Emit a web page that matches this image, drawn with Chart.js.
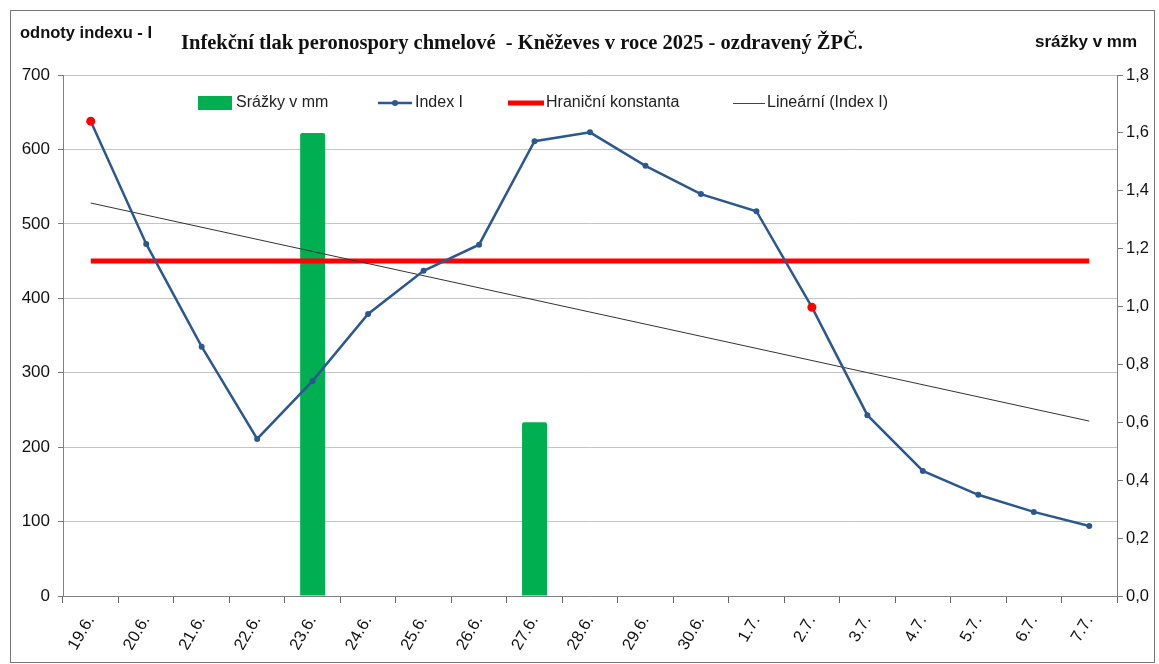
<!DOCTYPE html>
<html>
<head>
<meta charset="utf-8">
<script src="https://cdn.jsdelivr.net/npm/chart.js@4/dist/chart.umd.min.js"></script>
<style>
  html, body { margin: 0; padding: 0; background: #fff; }
  #wrap { position: relative; width: 1159px; height: 664px; }
  #frame { position: absolute; left: 10px; top: 10px; width: 1143px; height: 651px; border: 1px solid #767676; }
  canvas { position: absolute; left: 0; top: 0; }
  .hdr { position: absolute; line-height: 1; white-space: pre; color: #111; }
  #leftTitle { left: 20px; top: 23px; font: bold 16.5px "Liberation Sans", Arial, sans-serif; }
  #rightTitle { left: 1035px; top: 32px; font: bold 17px "Liberation Sans", Arial, sans-serif; }
  #mainTitle { left: 181px; top: 31px; font: bold 20.5px "Liberation Serif", "Times New Roman", serif; }
</style>
</head>
<body>
<div id="wrap">
  <div id="frame"></div>
  <canvas id="chart" width="1159" height="664"></canvas>
  <div class="hdr" id="leftTitle">odnoty indexu - I</div>
  <div class="hdr" id="mainTitle">Infekční tlak peronospory chmelové  - Kněževes v roce 2025 - ozdravený ŽPČ.</div>
  <div class="hdr" id="rightTitle">srážky v mm</div>
</div>
<script>
const days = ["19.6.", "20.6.", "21.6.", "22.6.", "23.6.", "24.6.", "25.6.", "26.6.", "27.6.", "28.6.",
  "29.6.", "30.6.", "1.7.", "2.7.", "3.7.", "4.7.", "5.7.", "6.7.", "7.7."];
const indexI = [638, 473, 335, 211, 289, 379, 437, 472, 611, 623, 578, 540, 517, 388, 243, 168, 136, 113, 94];
const srazky = [null, null, null, null, 1.6, null, null, null, 0.6, null, null, null, null, null, null, null, null, null, null];
const hranicni = [450, 450, 450, 450, 450, 450, 450, 450, 450, 450, 450, 450, 450, 450, 450, 450, 450, 450, 450];
const linearni = [528, null, null, null, null, null, null, null, null, null, null, null, null, null, null, null, null, null, 235];
const redPoints = ["19.6.", "2.7."];

const blue = "#2C5891";
const green = "#00B050";
const red = "#FF0000";

// legend drawn inside the plot area like the Excel original
const insideLegend = {
  id: "insideLegend",
  afterDraw(chart) {
    const c = chart.ctx;
    const y = 103;
    c.save();
    c.fillStyle = green;
    c.fillRect(198, 96, 34, 14);

    c.strokeStyle = blue;
    c.lineWidth = 2.5;
    c.beginPath(); c.moveTo(378, y); c.lineTo(412, y); c.stroke();
    c.fillStyle = blue;
    c.beginPath(); c.arc(395, y, 3, 0, Math.PI * 2); c.fill();

    c.strokeStyle = red;
    c.lineWidth = 5;
    c.beginPath(); c.moveTo(508, y); c.lineTo(544, y); c.stroke();

    c.strokeStyle = "#444";
    c.lineWidth = 1;
    c.beginPath(); c.moveTo(733, y + 0.5); c.lineTo(765, y + 0.5); c.stroke();

    c.fillStyle = "#222";
    c.font = '16px "Liberation Sans", Arial, sans-serif';
    c.textBaseline = "middle";
    c.fillText("Srážky v mm", 236, y);
    c.fillText("Index I", 415, y);
    c.fillText("Hraniční konstanta", 546, y);
    c.fillText("Lineární (Index I)", 767, y);
    c.restore();
  }
};

const tickFont = { family: '"Liberation Sans", Arial, sans-serif', size: 17 };

new Chart(document.getElementById("chart"), {
  type: "bar",
  data: {
    labels: days,
    datasets: [
      {
        type: "bar",
        label: "Srážky v mm",
        data: srazky,
        yAxisID: "y1",
        backgroundColor: green,
        barPercentage: 0.45,
        categoryPercentage: 1,
        borderRadius: 2,
        order: 4
      },
      {
        type: "line",
        label: "Hraniční konstanta",
        data: hranicni,
        yAxisID: "y",
        borderColor: red,
        borderWidth: 5,
        pointRadius: 0,
        order: 3
      },
      {
        type: "line",
        label: "Lineární (Index I)",
        data: linearni,
        yAxisID: "y",
        borderColor: "#333",
        borderWidth: 1,
        pointRadius: 0,
        spanGaps: true,
        order: 2
      },
      {
        type: "line",
        label: "Index I",
        data: indexI,
        yAxisID: "y",
        borderColor: blue,
        borderWidth: 2.5,
        pointRadius: ctx => redPoints.includes(days[ctx.dataIndex]) ? 4.5 : 3,
        pointBackgroundColor: ctx => redPoints.includes(days[ctx.dataIndex]) ? red : blue,
        pointBorderWidth: 0,
        order: 1
      }
    ]
  },
  options: {
    responsive: false,
    animation: false,
    layout: { padding: { top: 75, left: 0, right: 0, bottom: 0 } },
    plugins: {
      legend: { display: false },
      tooltip: { enabled: false }
    },
    scales: {
      x: {
        offset: true,
        grid: { offset: true, drawOnChartArea: false, drawTicks: true, tickLength: 7, color: "#666" },
        border: { color: "#808080" },
        ticks: { color: "#111", font: { ...tickFont, size: 16.5 }, minRotation: 60, maxRotation: 60, autoSkip: false, padding: 9 },
        afterFit(scale) { scale.height = 68; }
      },
      y: {
        position: "left",
        min: 0,
        max: 700,
        ticks: { stepSize: 100, color: "#111", font: tickFont, padding: 8 },
        grid: { color: "#c4c4c4", tickColor: "#777", tickLength: 5 },
        border: { color: "#808080" },
        afterFit(scale) { scale.width = 63; }
      },
      y1: {
        position: "right",
        min: 0,
        max: 1.8,
        ticks: {
          stepSize: 0.2,
          color: "#111",
          font: { ...tickFont, size: 16.5 },
          padding: 3,
          callback: v => v.toFixed(1).replace(".", ",")
        },
        grid: { drawOnChartArea: false, tickColor: "#777", tickLength: 6 },
        border: { color: "#808080" },
        afterFit(scale) { scale.width = 42; }
      }
    }
  },
  plugins: [insideLegend]
});
</script>
</body>
</html>
